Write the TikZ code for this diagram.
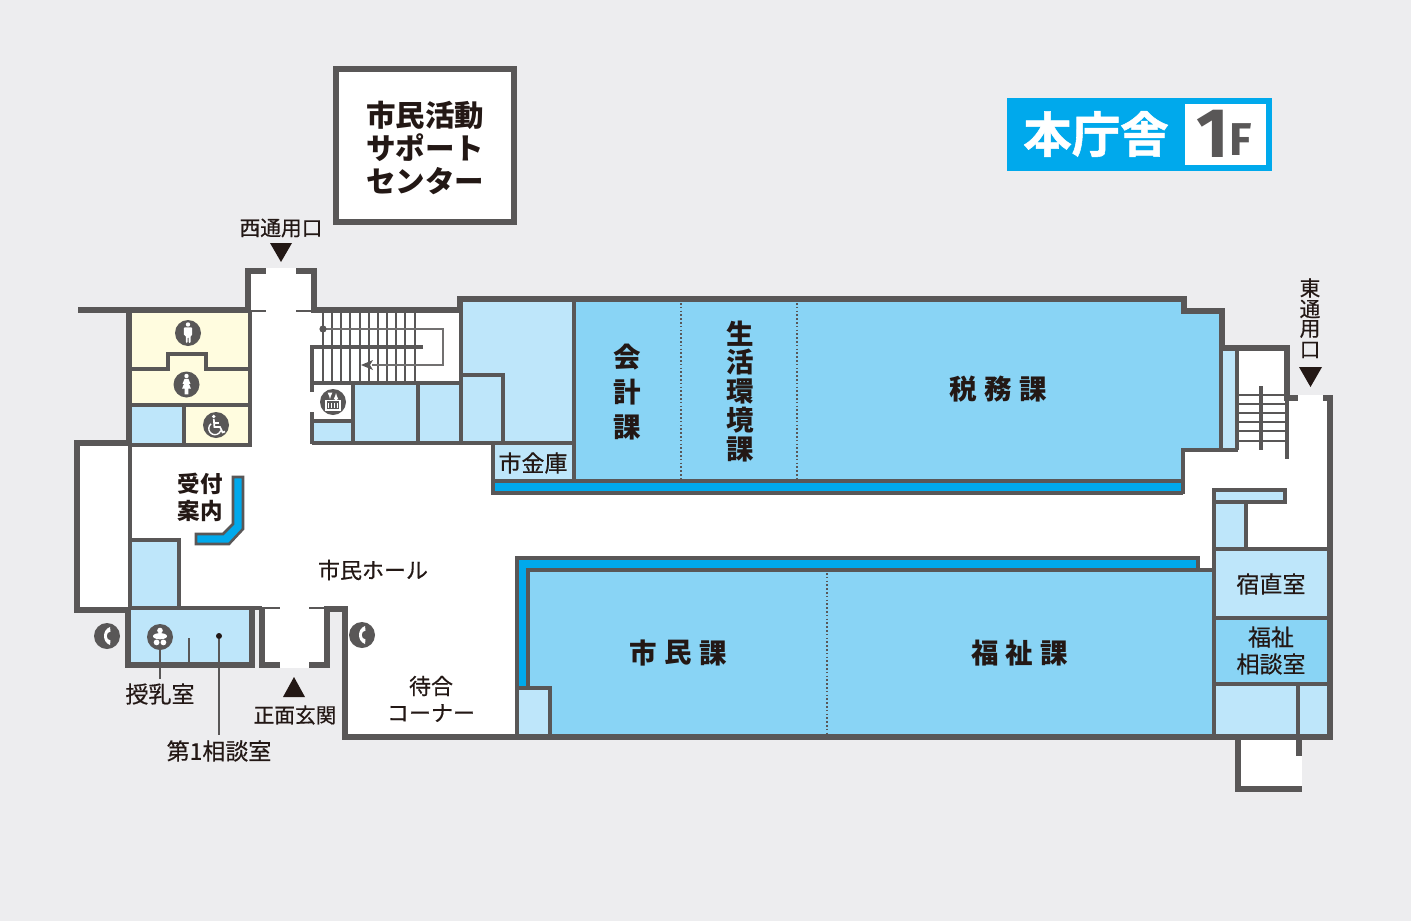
\documentclass[tikz,border=0pt]{standalone}
\usepackage{fontspec}
\setmainfont{Noto Sans CJK JP}
\newfontfamily\jpmed{Noto Sans CJK JP}[FakeBold=0.45]
\newfontfamily\jphead{Noto Sans CJK JP Bold}[FakeBold=1.1]
\newfontfamily\latinhead{Fira Sans}
\usepackage{tikz}
\usetikzlibrary{calc}
\definecolor{bggray}{HTML}{EDEDEF}
\definecolor{wallgray}{HTML}{595757}
\definecolor{palecyan}{HTML}{BEE6FA}
\definecolor{midcyan}{HTML}{89D4F5}
\definecolor{brightcyan}{HTML}{00A9EC}
\definecolor{creamy}{HTML}{FFFCDF}
\definecolor{inkblack}{HTML}{231815}
\tikzset{
  wall/.style={draw=wallgray,line width=6pt,miter limit=10},
  inwall/.style={draw=wallgray,line width=3.2pt},
  thinwall/.style={draw=wallgray,line width=2.4pt},
  treadline/.style={draw=wallgray,line width=2pt},
  railline/.style={draw=wallgray!85,line width=1.1pt},
  sign/.style={circle,fill=wallgray,minimum size=26pt,inner sep=0pt},
  lab/.style={text=inkblack,font=\jpmed\fontsize{20.7}{20.7}\selectfont,inner sep=1pt},
  labmid/.style={text=inkblack,font=\jpmed\fontsize{22}{22}\selectfont,inner sep=1pt},
  labbig/.style={text=inkblack,font=\jpmed\fontsize{23}{23}\selectfont,inner sep=1pt},
  roomlab/.style={text=inkblack,font=\fontsize{27.5}{27.5}\selectfont\bfseries,inner sep=0pt},
  boxlab/.style={text=inkblack,font=\fontsize{29.5}{29.5}\selectfont\bfseries,inner sep=0pt},
  tri/.style={fill=inkblack,draw=none}
}
\begin{document}
\begin{tikzpicture}[x=1pt,y=-1pt]
\fill[bggray] (0,0) rectangle (1411,921);
\useasboundingbox (0,0) rectangle (1411,921);

\fill[white] (248,271) -- (314,271) -- (314,310) -- (460,310) -- (460,299) -- (1184,299) -- (1184,311) -- (1222,311) -- (1222,348) -- (1287,348) -- (1287,398) -- (1330,398) -- (1330,737) -- (345,737) -- (345,609) -- (327,609) -- (327,665) -- (262,665) -- (262,609) -- (252,609) -- (252,665) -- (128,665) -- (128,609) -- (77,609) -- (77,443) -- (129,443) -- (129,310) -- (248,310) -- cycle;
\fill[white] (1238,737) rectangle (1302,789);
\fill[white] (266,268) rectangle (296,313);
\fill[white] (280,605) rectangle (309,668);
\fill[white] (1298,395) rectangle (1323,401);

\fill[creamy] (130,312) rectangle (250,445);
\fill[palecyan] (130,405) rectangle (184,444);
\fill[palecyan] (130,540) rectangle (179,608);
\fill[palecyan] (128,608) rectangle (252,665);
\fill[palecyan] (312,421) rectangle (353,444);
\fill[palecyan] (353,383) rectangle (461,444);
\fill[palecyan] (461,299) rectangle (576,444);
\fill[palecyan] (493,443) rectangle (574,481);
\fill[midcyan] (574,299) -- (1184,299) -- (1184,311) -- (1221,311) -- (1221,450) -- (1183,450) -- (1183,481) -- (574,481) -- cycle;
\fill[brightcyan] (493,481) rectangle (1183,492);
\fill[palecyan] (1221,350) rectangle (1237,450);
\fill[palecyan] (1214,490) rectangle (1285,502);
\fill[palecyan] (1214,502) rectangle (1246,549);
\fill[palecyan] (1214,549) rectangle (1328,618);
\fill[midcyan] (1214,618) rectangle (1328,684);
\fill[palecyan] (1214,684) rectangle (1328,735);
\fill[brightcyan] (517,558) rectangle (1198,570);
\fill[brightcyan] (517,558) rectangle (528,688);
\fill[midcyan] (528,570) rectangle (1214,735);
\fill[palecyan] (517,688) rectangle (550,735);

\foreach \xs in {323,332.15,...,415}
  \draw[treadline] (\xs,312) -- (\xs,383);
\foreach \ys in {395,404,413,422,431,441}
  \draw[treadline] (1237,\ys) -- (1286,\ys);
\draw[inwall] (1261,386) -- (1261,450);
\draw[railline] (323,329) -- (443,329) -- (443,365) -- (372,365);
\fill[wallgray] (361,365) -- (373,360) -- (370,365) -- (373,370) -- cycle;
\fill[wallgray] (323,329) circle (3.6pt);

\draw[inwall] (130,369) -- (168,369) -- (168,354) -- (206,354) -- (206,369) -- (250,369);
\draw[inwall] (130,405) -- (250,405);
\draw[inwall] (184,405) -- (184,445);
\draw[inwall] (250,312) -- (250,445) -- (130,445);
\draw[inwall] (130,443) -- (130,610);
\draw[inwall] (130,540) -- (179,540) -- (179,608);
\draw[inwall] (130,608) -- (262,608);
\draw[thinwall] (189,638) -- (189,664);
\draw[thinwall] (250,311) -- (266,311);
\draw[thinwall] (296,311) -- (314,311);
\draw[thinwall] (262,608) -- (280,608);
\draw[thinwall] (309,608) -- (327,608);

\draw[inwall] (423,347) -- (312,347) -- (312,392);
\draw[inwall] (312,412) -- (312,444);
\draw[inwall] (312,383) -- (461,383);
\draw[inwall] (312,421) -- (353,421);
\draw[inwall] (353,383) -- (353,444);
\draw[inwall] (418,383) -- (418,444);
\draw[inwall] (461,310) -- (461,444);
\draw[inwall] (461,375) -- (503,375) -- (503,444);
\draw[inwall] (312,443) -- (574,443);
\draw[inwall] (493,443) -- (493,493) -- (1183,493);
\draw[inwall] (493,481) -- (1183,481);
\draw[inwall] (574,299) -- (574,481);
\draw[inwall] (1221,311) -- (1221,450);
\draw[inwall] (1237,348) -- (1237,450);
\draw[inwall] (1183,494) -- (1183,450) -- (1238,450);
\draw[inwall] (1287,398) -- (1287,459);

\draw[inwall] (1214,490) rectangle (1285,502);
\draw[inwall] (1214,490) -- (1214,737);
\draw[inwall] (1246,502) -- (1246,549);
\draw[inwall] (1214,549) -- (1330,549);
\draw[inwall] (1214,618) -- (1330,618);
\draw[inwall] (1214,684) -- (1330,684);
\draw[inwall] (1298,684) -- (1298,737);
\draw[inwall] (517,737) -- (517,558) -- (1198,558) -- (1198,570);
\draw[inwall] (528,688) -- (528,570) -- (1214,570);
\draw[inwall] (517,688) -- (550,688) -- (550,737);

\draw[wallgray,line width=2pt,dash pattern=on 1.6pt off 2.2pt] (681,303) -- (681,479);
\draw[wallgray,line width=2pt,dash pattern=on 1.6pt off 2.2pt] (797,303) -- (797,479);
\draw[wallgray,line width=2pt,dash pattern=on 1.6pt off 2.2pt] (827,573) -- (827,734);

\draw[wall] (78,310) -- (248,310) -- (248,271) -- (266,271);
\draw[wall] (296,271) -- (314,271) -- (314,310) -- (460,310) -- (460,299) -- (1184,299) -- (1184,311) -- (1222,311) -- (1222,348) -- (1287,348) -- (1287,398) -- (1298,398);
\draw[wall] (1323,398) -- (1330,398) -- (1330,737) -- (345,737) -- (345,609) -- (327,609) -- (327,665) -- (309,665);
\draw[wall] (280,665) -- (262,665) -- (262,609);
\draw[wall] (252,609) -- (252,665) -- (128,665) -- (128,610) -- (77,610) -- (77,443) -- (129,443) -- (129,310);
\draw[wall] (1238,737) -- (1238,789) -- (1302,789);
\draw[wall] (1299,737) -- (1299,756);

\draw[fill=brightcyan,draw=wallgray,line width=2.6pt] (233,477) -- (243,477) -- (243,529) -- (229,544) -- (196,544) -- (196,534) -- (223,534) -- (233,524) -- cycle;

\draw[draw=wallgray,line width=5.5pt,fill=white] (336,69) rectangle (514,222);
\node[boxlab] (citizenA) at (425,115) {市民活動};
\node[boxlab] (citizenB) at (425,148) {サポート};
\node[boxlab] (citizenC) at (425,181) {センター};

\fill[brightcyan] (1007,98) rectangle (1272,171);
\fill[white] (1185,104) rectangle (1266,165);
\node[text=white,font=\jphead\fontsize{48.5}{48.5}\selectfont,inner sep=0pt] (headname) at (1096,134) {本庁舎};
\node[text=wallgray,font=\latinhead\fontsize{70}{70}\selectfont\bfseries,inner sep=0pt] (headone) at (1213,134) {1};
\node[text=wallgray,font=\latinhead\fontsize{46}{46}\selectfont\bfseries,inner sep=0pt] (headf) at (1241,140) {F};

\fill[tri] (270,243) -- (292,243) -- (281,262) -- cycle;
\fill[tri] (1299,367) -- (1322,367) -- (1310.5,387) -- cycle;
\fill[tri] (283,697) -- (305,697) -- (294,677) -- cycle;

\node[lab] (westdoor) at (281,228) {西通用口};
\node[lab] (eastA) at (1310,288) {東};
\node[lab] (eastB) at (1310,309) {通};
\node[lab] (eastC) at (1310,329) {用};
\node[lab] (eastD) at (1310,350) {口};
\node[lab] (frontdoor) at (295,715) {正面玄関};
\node[labmid] (hall) at (373,570) {市民ホール};
\node[labmid] (waitA) at (431,686) {待合};
\node[labmid] (waitB) at (431,713) {コーナー};
\node[labbig] (nursery) at (160,694) {授乳室};
\node[labbig] (consultone) at (219,751) {第1相談室};
\node[labbig] (vault) at (533,463) {市金庫};
\node[labbig] (night) at (1271,584) {宿直室};
\node[labbig] (welfareA) at (1271,637) {福祉};
\node[labbig] (welfareB) at (1271,664) {相談室};
\node[text=inkblack,font=\fontsize{22.5}{22.5}\selectfont\bfseries,inner sep=0pt] (deskA) at (200,484) {受付};
\node[text=inkblack,font=\fontsize{22.5}{22.5}\selectfont\bfseries,inner sep=0pt] (deskB) at (200,511) {案内};

\node[roomlab] (taxA) at (963,389) {税};
\node[roomlab] (taxB) at (998,389) {務};
\node[roomlab] (taxC) at (1033,389) {課};
\node[roomlab] (civicA) at (643,653) {市};
\node[roomlab] (civicB) at (678,653) {民};
\node[roomlab] (civicC) at (713,653) {課};
\node[roomlab] (careA) at (985,653) {福};
\node[roomlab] (careB) at (1019,653) {祉};
\node[roomlab] (careC) at (1054,653) {課};
\node[roomlab] (acctA) at (627,357) {会};
\node[roomlab] (acctB) at (627,392) {計};
\node[roomlab] (acctC) at (627,427) {課};
\node[roomlab] (envA) at (740,334) {生};
\node[roomlab] (envB) at (740,362) {活};
\node[roomlab] (envC) at (740,391) {環};
\node[roomlab] (envD) at (740,420) {境};
\node[roomlab] (envE) at (740,449) {課};

\node[sign] (mansign) at (188,333) {};
\fill[white] (mansign.center) ++(0,-8.5) circle (2.2pt);
\fill[white,rounded corners=1pt] ($(mansign.center)+(-4.2,-5.6)$) -- ++(8.4,0) -- ++(0,8) -- ++(-1.6,0) -- ++(0,7.6) -- ++(-1.9,0) -- ++(0,-6) -- ++(-1,0) -- ++(0,6) -- ++(-1.9,0) -- ++(0,-7.6) -- ++(-2,0) -- cycle;
\node[sign] (womansign) at (186.5,384.5) {};
\fill[white] (womansign.center) ++(0,-8.5) circle (2.2pt);
\fill[white] ($(womansign.center)+(-2,-5.6)$) -- ++(4,0) -- ++(2,5) -- ++(-1.5,0) -- ++(2,4.8) -- ++(-2.7,0) -- ++(0,5.6) -- ++(-1.6,0) -- ++(0,-5.6) -- ++(-0.4,0) -- ++(0,5.6) -- ++(-1.6,0) -- ++(0,-5.6) -- ++(-2.7,0) -- ++(2,-4.8) -- ++(-1.5,0) -- cycle;
\node[sign] (wheelsign) at (216,425) {};
\fill[white] ($(wheelsign.center)+(-2.2,-8.5)$) circle (1.9pt);
\draw[white,line width=1.7pt] ($(wheelsign.center)+(-2.2,-6)$) -- ++(0.6,8) -- ++(5.6,0) -- ++(2.6,5.4) -- ++(2.4,-0.9);
\draw[white,line width=1.3pt] ($(wheelsign.center)+(-2,-2)$) -- ++(5.2,0);
\draw[white,line width=1.4pt] ($(wheelsign.center)+(-5,-1.25)$) arc (130:340:6.2pt);
\node[sign] (liftsign) at (333,402) {};
\draw[white,line width=1.2pt] ($(liftsign.center)+(-7,-1.5)$) rectangle ($(liftsign.center)+(7,8)$);
\foreach \xs in {-4.5,-1.5,1.5,4.5}
  \draw[white,line width=1.3pt] ($(liftsign.center)+(\xs,1)$) -- ++(0,5);
\draw[white,line width=1.2pt,-latex] ($(liftsign.center)+(3,-3)$) -- ++(0,-6);
\draw[white,line width=1.2pt,-latex] ($(liftsign.center)+(-3,-9)$) -- ++(0,6);
\node[sign] (babysign) at (160,637) {};
\fill[white] ($(babysign.center)+(0,-6.5)$) circle (2.8pt);
\fill[white] ($(babysign.center)+(0,-0.8)$) ellipse (7pt and 3.1pt);
\fill[white] ($(babysign.center)+(-3.4,5.4)$) circle (2.9pt);
\fill[white] ($(babysign.center)+(3.4,5.4)$) circle (2.9pt);
\node[sign] (phonewest) at (107,636) {};
\node[sign] (phoneeast) at (362,635) {};
\foreach \tn in {phonewest,phoneeast}{
  \fill[white] ($(\tn.center)+(3,-9)$) .. controls ($(\tn.center)+(-5,-6)$) and ($(\tn.center)+(-5,6)$) .. ($(\tn.center)+(3,9)$) -- ($(\tn.center)+(3.5,4.5)$) .. controls ($(\tn.center)+(-1.5,4)$) and ($(\tn.center)+(-1.5,-4)$) .. ($(\tn.center)+(3.5,-4.5)$) -- cycle;
}

\node[circle,fill=inkblack,minimum size=6pt,inner sep=0pt] (consultdot) at (219,636) {};
\draw[wallgray,line width=1.5pt] (consultdot) -- ($(consultone.north)+(0,-4)$) coordinate (consultend);
\draw[wallgray,line width=2pt] (babysign) -- ($(nursery.north)+(0,-3)$) coordinate (nurseryend);
\end{tikzpicture}
\end{document}
